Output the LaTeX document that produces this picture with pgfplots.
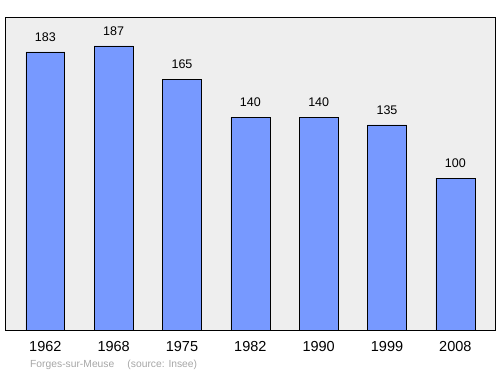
\documentclass[border=0pt]{standalone}
\usepackage{pgfplots}
\pgfplotsset{compat=1.18}
\usepackage{fontspec}
\setmainfont{Liberation Sans}
\definecolor{bgc}{HTML}{EEEEEE}
\definecolor{barc}{HTML}{7799FF}
\begin{document}
\begin{tikzpicture}[x=1pt,y=1pt]
\useasboundingbox (0,0) rectangle (500,374);
\begin{axis}[
  at={(5pt,44pt)}, anchor=south west,
  scale only axis, width=490pt, height=313pt,
  xmin=-0.59, xmax=6.58, ymin=0, ymax=206,
  axis background/.style={fill=bgc},
  axis line style={black, line width=0.9pt},
  ytick=\empty,
  xtick=data,
  xticklabels={1962,1968,1975,1982,1990,1999,2008},
  xtick style={draw=none},
  xticklabel style={font=\fontsize{14.5}{16}\selectfont, yshift=-4pt},
  ybar, bar width=0.57,
  nodes near coords,
  every node near coord/.append style={font=\fontsize{12.5}{14}\selectfont, yshift=7pt},
  /pgf/number format/assume math mode=true,
]
\addplot[fill=barc, draw=black, line width=0.6pt] coordinates {
(0,183) (1,187) (2,165) (3,140) (4,140) (5,135) (6,100)};
\end{axis}
\node[anchor=west, text=gray!70, font=\fontsize{10.3}{12}\selectfont, inner sep=0pt] at (30,9) {Forges-sur-Meuse\quad\ (source: Insee)};
\end{tikzpicture}
\end{document}
